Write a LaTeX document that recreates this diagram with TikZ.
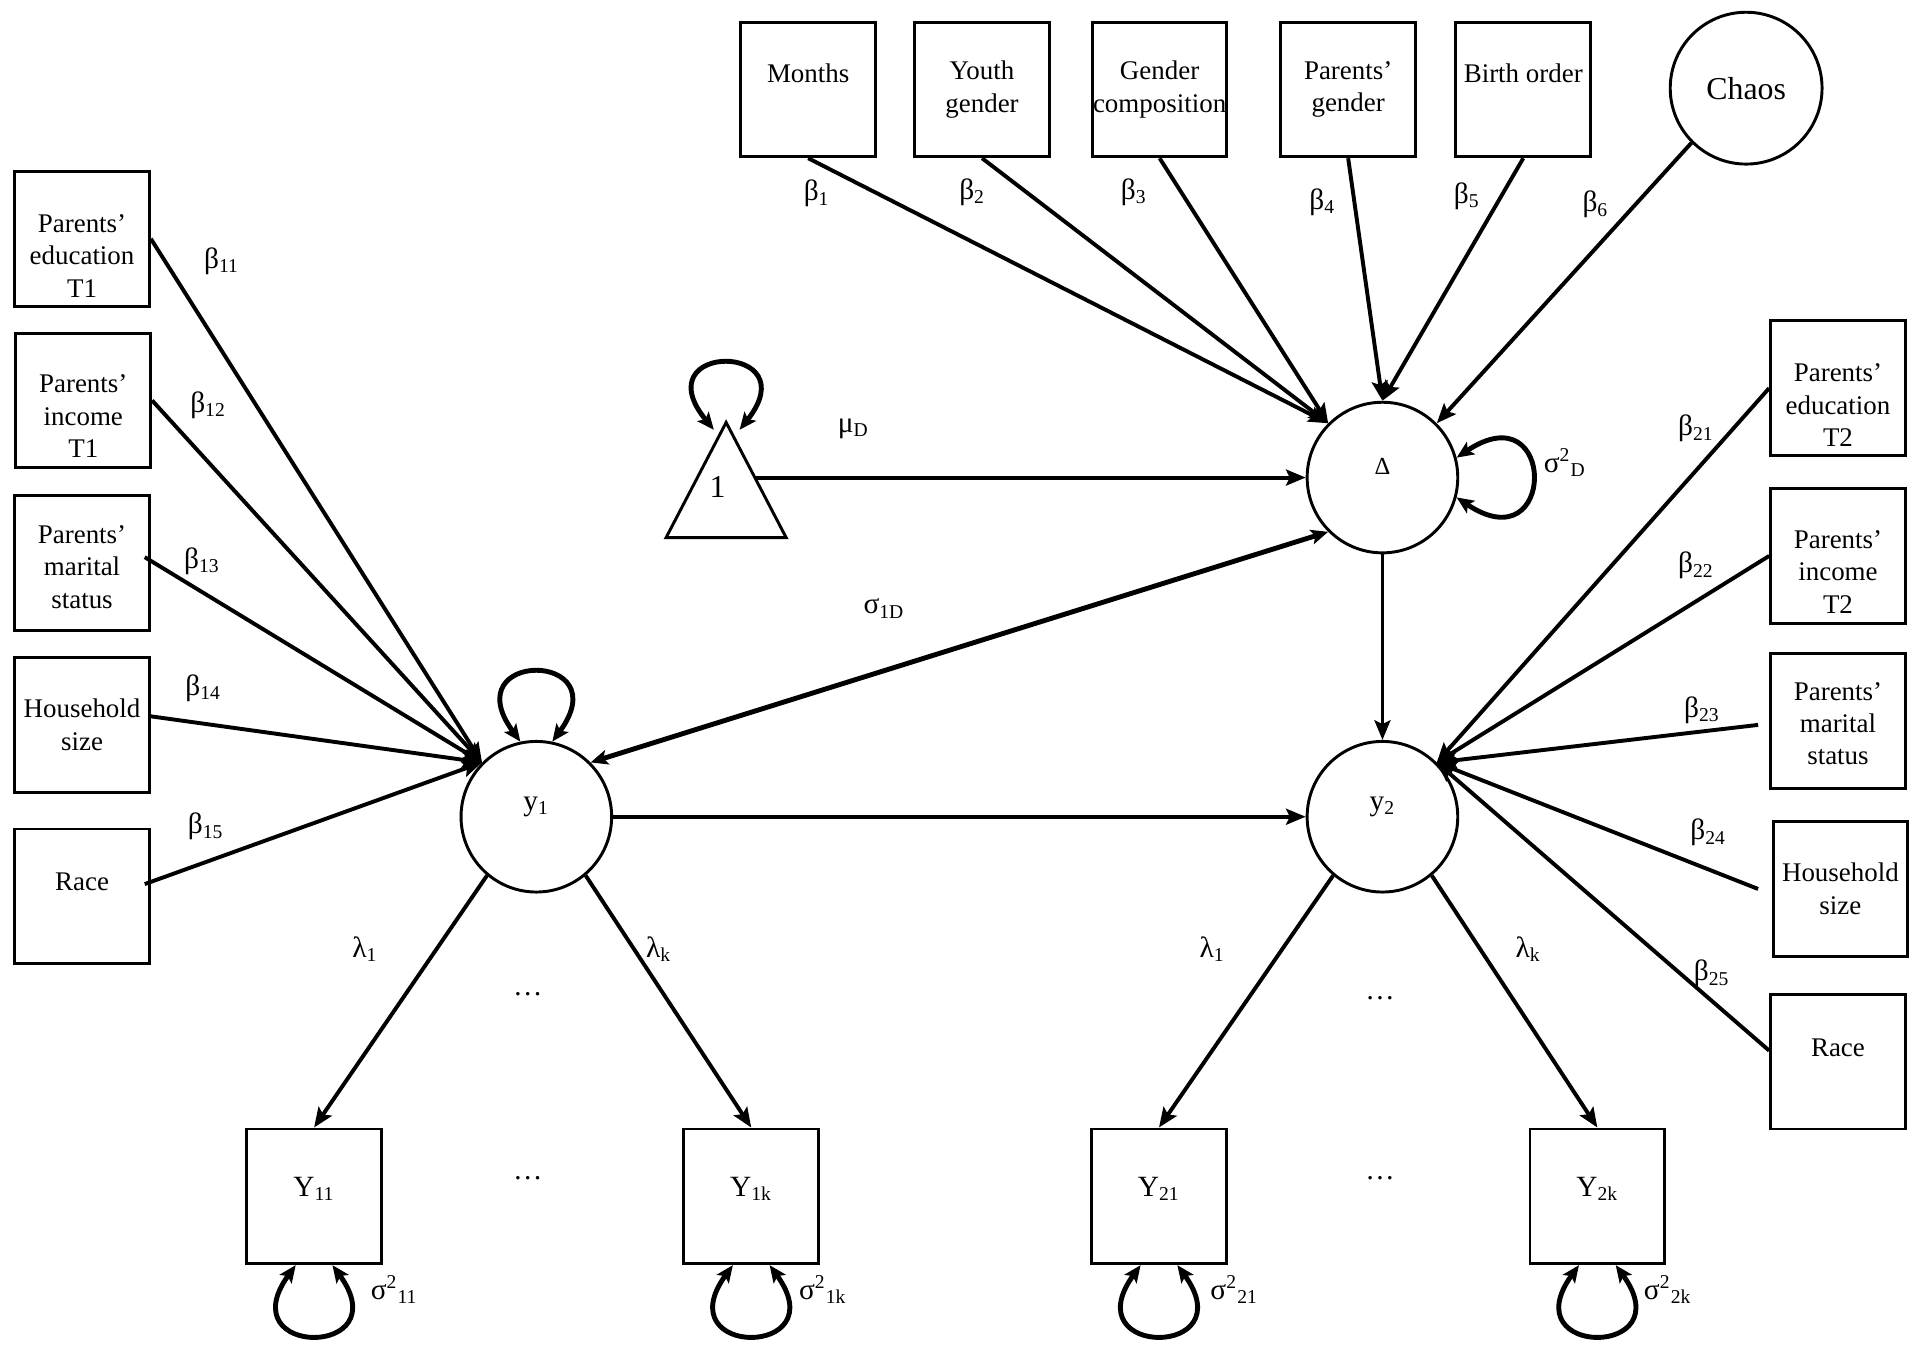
\documentclass[tikz,border=0pt]{standalone}
\usepackage{fontspec}
\setmainfont{Liberation Serif}
\usetikzlibrary{arrows.meta}
\begin{document}
\begin{tikzpicture}[x=0.5pt,y=-0.5pt,
  box/.style={draw, line width=1.2pt, minimum width=55pt, minimum height=55pt, inner sep=0pt},
  btxt/.style={align=center, font=\fontsize{11}{13.25}\selectfont, inner sep=0pt},
  lat/.style={draw, circle, line width=1.2pt, minimum size=61.5pt, inner sep=0pt},
  reg/.style={line width=1.6pt, -{Stealth[length=8pt,width=6.5pt,inset=1.5pt]}},
  cov/.style={line width=2pt, {Stealth[length=7pt,width=6pt,inset=1.5pt]}-{Stealth[length=7pt,width=6pt,inset=1.5pt]}},
  lab/.style={font=\fontsize{12}{14}\selectfont, inner sep=0pt}]
\useasboundingbox (0,0) rectangle (1568,1101);

% top predictors
\node[box] (months) at (660,73) {};
\node[btxt] (monthst) at ([yshift=6.5pt]months.center) {Months};
\node[box] (youth) at (802,73) {};
\node[btxt] (youtht) at (youth.center) {Youth\\gender};
\node[box] (gcomp) at (947,73) {};
\node[btxt] (gcompt) at (gcomp.center) {Gender\\composition};
\node[box] (pgen) at (1101,73) {};
\node[btxt] (pgent) at (pgen.center) {Parents'\\gender};
\node[box] (bord) at (1244,73) {};
\node[btxt] (bordt) at ([yshift=6.5pt]bord.center) {Birth order};
\node[lat, minimum size=62pt, font=\fontsize{13}{15}\selectfont] (chaos) at (1426,72) {Chaos};

% left predictors
\node[box] (edu1) at (67,195) {};
\node[btxt] (edu1t) at ([yshift=-7pt]edu1.center) {Parents'\\education\\T1};
\node[box] (inc1) at (68,327) {};
\node[btxt] (inc1t) at ([yshift=-6.5pt]inc1.center) {Parents'\\income\\T1};
\node[box] (mar1) at (67,460) {};
\node[btxt] (mar1t) at ([yshift=-1.5pt]mar1.center) {Parents'\\marital\\status};
\node[box] (hh1) at (67,592) {};
\node[btxt] (hh1t) at (hh1.center) {Household\\size};
\node[box] (race1) at (67,732) {};
\node[btxt] (race1t) at ([yshift=6pt]race1.center) {Race};

% right predictors
\node[box] (edu2) at (1501,317) {};
\node[btxt] (edu2t) at ([yshift=-7pt]edu2.center) {Parents'\\education\\T2};
\node[box] (inc2) at (1501,454) {};
\node[btxt] (inc2t) at ([yshift=-6.5pt]inc2.center) {Parents'\\income\\T2};
\node[box] (mar2) at (1501,589) {};
\node[btxt] (mar2t) at ([yshift=-1pt]mar2.center) {Parents'\\marital\\status};
\node[box] (hh2) at (1503,726) {};
\node[btxt] (hh2t) at (hh2.center) {Household\\size};
\node[box] (race2) at (1501,867) {};
\node[btxt] (race2t) at ([yshift=5.5pt]race2.center) {Race};

% latent variables
\node[lat] (D) at (1129,390) {};
\node[font=\fontsize{10}{12}\selectfont, inner sep=0pt] (Dt) at ([yshift=4.5pt]D.center) {Δ};
\node[lat] (y1) at (438,667) {};
\node[lab] (y1t) at ([yshift=4pt]y1.center) {y\textsubscript{1}};
\node[lat] (y2) at (1129,667) {};
\node[lab] (y2t) at ([yshift=4pt]y2.center) {y\textsubscript{2}};

% indicators
\node[box] (Y11) at (256.5,977) {};
\node[lab] (Y11t) at ([yshift=3pt]Y11.center) {Y\textsubscript{11}};
\node[box] (Y1k) at (613.5,977) {};
\node[lab] (Y1kt) at ([yshift=3pt]Y1k.center) {Y\textsubscript{1k}};
\node[box] (Y21) at (946.5,977) {};
\node[lab] (Y21t) at ([yshift=3pt]Y21.center) {Y\textsubscript{21}};
\node[box] (Y2k) at (1304.5,977) {};
\node[lab] (Y2kt) at ([yshift=3pt]Y2k.center) {Y\textsubscript{2k}};

% constant triangle
\coordinate (triA) at (593,345);
\coordinate (triL) at (544,439);
\coordinate (triR) at (642,439);
\draw[line width=1.2pt, line join=miter] (triL) -- (triA) -- (triR) -- cycle;
\node[lab, font=\fontsize{13}{15}\selectfont] (one) at (586,398) {1};
\coordinate (triE) at (617,390);
\coordinate (triLl) at (583,351);
\coordinate (triLr) at (604,351);

% regressions onto Delta
\draw[reg] (months.south) -- (D.135);
\draw[reg] (youth.south) -- (D.135);
\draw[reg] (gcomp.south) -- (D.135);
\draw[reg] (pgen.south) -- (D.90);
\draw[reg] (bord.south) -- (D.90);
\draw[reg] (chaos.225) -- (D.45);
\draw[reg] (triE) -- (D.west);

% structural paths
\draw[cov] (y1.45) -- (D.225);
\draw[reg] (D.south) -- (y2.north);
\draw[reg] (y1.east) -- (y2.west);

% left covariates
\draw[reg] (edu1.east) -- (y1.135);
\draw[reg] (inc1.east) -- (y1.135);
\draw[reg] ([xshift=-2.5pt,yshift=2.5pt]mar1.east) -- (y1.135);
\draw[reg] ([yshift=3.5pt]hh1.east) -- (y1.135);
\draw[reg] ([xshift=-2.5pt,yshift=5pt]race1.east) -- (y1.135);

% right covariates
\draw[reg] (edu2.west) -- (y2.45);
\draw[reg] (inc2.west) -- (y2.45);
\draw[reg] ([xshift=-4.5pt,yshift=-1.5pt]mar2.west) -- (y2.45);
\draw[reg] ([xshift=-5.5pt]hh2.west) -- (y2.45);
\draw[reg] ([yshift=4.5pt]race2.west) -- (y2.45);

% loadings
\draw[reg] (y1.230) -- (Y11.north);
\draw[reg] (y1.310) -- (Y1k.north);
\draw[reg] (y2.230) -- (Y21.north);
\draw[reg] (y2.310) -- (Y2k.north);

% variance loops
\draw[cov] (triLl) .. controls +(-59,-72) and +(57,-72) .. (triLr);
\draw[cov] (D.15) .. controls +(82,-55) and +(82,55) .. (D.-15);
\draw[cov] (y1.102) .. controls +(-55,-75) and +(55,-75) .. (y1.78);
\draw[cov] ([xshift=-7.5pt]Y11.south) .. controls +(-55,76) and +(55,76) .. ([xshift=7.5pt]Y11.south);
\draw[cov] ([xshift=-7.5pt]Y1k.south) .. controls +(-55,76) and +(55,76) .. ([xshift=7.5pt]Y1k.south);
\draw[cov] ([xshift=-7.5pt]Y21.south) .. controls +(-55,76) and +(55,76) .. ([xshift=7.5pt]Y21.south);
\draw[cov] ([xshift=-7.5pt]Y2k.south) .. controls +(-55,76) and +(55,76) .. ([xshift=7.5pt]Y2k.south);

% labels
\node[lab] (b1) at (667,158) {β\textsubscript{1}};
\node[lab] (b2) at (794,157) {β\textsubscript{2}};
\node[lab] (b3) at (926,157) {β\textsubscript{3}};
\node[lab] (b4) at (1080,165) {β\textsubscript{4}};
\node[lab] (b5) at (1198,160) {β\textsubscript{5}};
\node[lab] (b6) at (1303,167) {β\textsubscript{6}};
\node[lab] (b11) at (181,213) {β\textsubscript{11}};
\node[lab] (b12) at (170,331) {β\textsubscript{12}};
\node[lab] (b13) at (165,458) {β\textsubscript{13}};
\node[lab] (b14) at (166,562) {β\textsubscript{14}};
\node[lab] (b15) at (168,675) {β\textsubscript{15}};
\node[lab] (b21) at (1385,350) {β\textsubscript{21}};
\node[lab] (b22) at (1385,462) {β\textsubscript{22}};
\node[lab] (b23) at (1390,580) {β\textsubscript{23}};
\node[lab] (b24) at (1395,680) {β\textsubscript{24}};
\node[lab] (b25) at (1398,795) {β\textsubscript{25}};
\node[lab] (muD) at (697,350) {μ\textsubscript{D}};
\node[lab] (s1D) at (722,497) {σ\textsubscript{1D}};
\node[lab] (s2D) at (1278,378) {σ\textsuperscript{2}\textsubscript{D}};
\node[lab] (l11) at (298,775) {λ\textsubscript{1}};
\node[lab] (l1k) at (538,775) {λ\textsubscript{k}};
\node[lab] (l21) at (990,775) {λ\textsubscript{1}};
\node[lab] (l2k) at (1248,775) {λ\textsubscript{k}};
\node[lab] (dots1) at (431,812) {…};
\node[lab] (dots2) at (431,962) {…};
\node[lab] (dots3) at (1127,815) {…};
\node[lab] (dots4) at (1127,962) {…};
\node[lab] (s11) at (322,1053) {σ\textsuperscript{2}\textsubscript{11}};
\node[lab] (s1k) at (672,1053) {σ\textsuperscript{2}\textsubscript{1k}};
\node[lab] (s21) at (1008,1053) {σ\textsuperscript{2}\textsubscript{21}};
\node[lab] (s2k) at (1362,1053) {σ\textsuperscript{2}\textsubscript{2k}};
\end{tikzpicture}
\end{document}
